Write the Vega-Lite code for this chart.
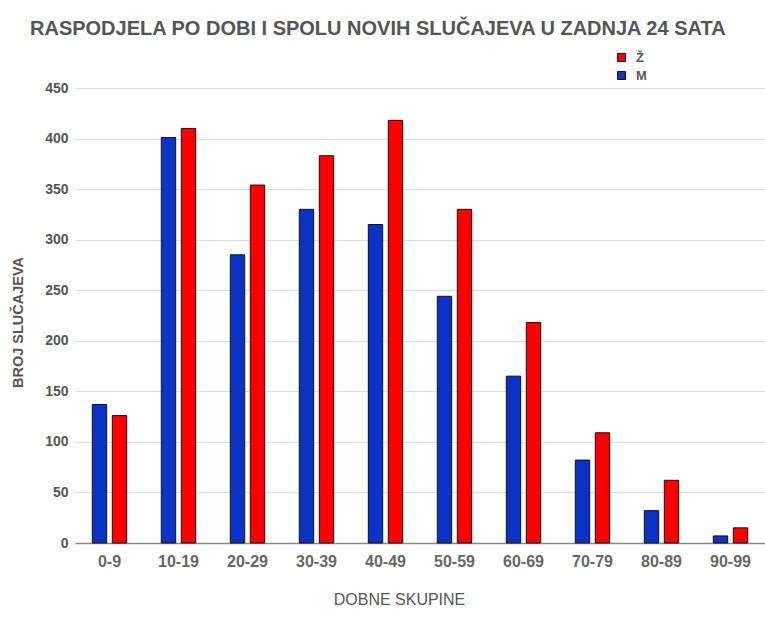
{
  "$schema": "https://vega.github.io/schema/vega-lite/v6.json",
  "width": 690,
  "height": 455,
  "autosize": {"type": "none"},
  "padding": {"left": 75, "top": 88, "right": 0, "bottom": 75},
  "background": "#ffffff",
  "title": {
    "text": "RASPODJELA PO DOBI I SPOLU NOVIH SLUČAJEVA U ZADNJA 24 SATA",
    "anchor": "start",
    "frame": "group",
    "dx": -45,
    "offset": 12,
    "font": "Liberation Sans",
    "fontSize": 20,
    "fontWeight": "bold",
    "color": "#555555"
  },
  "data": {
    "values": [
      {"age": "0-9", "sex": "M", "count": 137},
      {"age": "0-9", "sex": "Ž", "count": 126},
      {"age": "10-19", "sex": "M", "count": 401},
      {"age": "10-19", "sex": "Ž", "count": 410},
      {"age": "20-29", "sex": "M", "count": 285},
      {"age": "20-29", "sex": "Ž", "count": 354},
      {"age": "30-39", "sex": "M", "count": 330},
      {"age": "30-39", "sex": "Ž", "count": 383},
      {"age": "40-49", "sex": "M", "count": 315},
      {"age": "40-49", "sex": "Ž", "count": 418},
      {"age": "50-59", "sex": "M", "count": 244},
      {"age": "50-59", "sex": "Ž", "count": 330},
      {"age": "60-69", "sex": "M", "count": 165},
      {"age": "60-69", "sex": "Ž", "count": 218},
      {"age": "70-79", "sex": "M", "count": 82},
      {"age": "70-79", "sex": "Ž", "count": 109},
      {"age": "80-89", "sex": "M", "count": 32},
      {"age": "80-89", "sex": "Ž", "count": 62},
      {"age": "90-99", "sex": "M", "count": 7},
      {"age": "90-99", "sex": "Ž", "count": 15}
    ]
  },
  "mark": {"type": "bar", "stroke": "#111111", "strokeWidth": 1},
  "encoding": {
    "x": {
      "field": "age",
      "type": "nominal",
      "sort": null,
      "scale": {"paddingInner": 0, "paddingOuter": 0},
      "axis": {
        "title": "DOBNE SKUPINE",
        "titleFont": "Liberation Sans",
        "titleFontSize": 16,
        "titleFontWeight": "normal",
        "titleColor": "#555555",
        "titleX": 324,
        "titleY": 56,
        "titleBaseline": "middle",
        "titleAlign": "center",
        "labelAngle": 0,
        "labelFont": "Liberation Sans",
        "labelFontSize": 16,
        "labelFontWeight": "bold",
        "labelColor": "#666666",
        "labelPadding": 10,
        "ticks": false,
        "domainColor": "#888888",
        "domainWidth": 1.5
      }
    },
    "xOffset": {
      "field": "sex",
      "type": "nominal",
      "scale": {"domain": ["M", "Ž"], "paddingInner": 0.28, "paddingOuter": 0.865}
    },
    "y": {
      "field": "count",
      "type": "quantitative",
      "scale": {"domain": [0, 450], "nice": false},
      "axis": {
        "title": "BROJ SLUČAJEVA",
        "titleFont": "Liberation Sans",
        "titleFontSize": 14.5,
        "titleFontWeight": "bold",
        "titleColor": "#555555",
        "titleX": -57,
        "titleY": 234,
        "titleAngle": -90,
        "titleAlign": "center",
        "titleBaseline": "middle",
        "values": [0, 50, 100, 150, 200, 250, 300, 350, 400, 450],
        "labelFont": "Liberation Sans",
        "labelFontSize": 14,
        "labelFontWeight": "bold",
        "labelColor": "#555555",
        "labelPadding": 7,
        "ticks": false,
        "domain": false,
        "grid": true,
        "gridColor": "#dddddd",
        "gridWidth": 1
      }
    },
    "color": {
      "field": "sex",
      "type": "nominal",
      "scale": {"domain": ["Ž", "M"], "range": ["#ff0000", "#0b33c6"]},
      "legend": {
        "title": null,
        "orient": "none",
        "legendX": 540,
        "legendY": -37,
        "symbolType": "square",
        "symbolSize": 64,
        "symbolStrokeColor": "#111111",
        "symbolStrokeWidth": 1,
        "symbolOpacity": 1,
        "labelFont": "Liberation Sans",
        "labelFontSize": 13,
        "labelFontWeight": "bold",
        "labelColor": "#555555",
        "labelOffset": 8,
        "rowPadding": 4
      }
    }
  },
  "config": {"view": {"stroke": null}}
}
